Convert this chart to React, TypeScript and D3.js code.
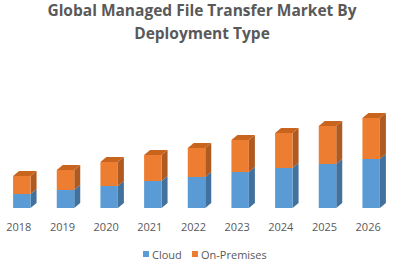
import { useRef, useEffect, RefObject } from 'react';
import * as d3 from 'd3';

const years: string[] = ['2018', '2019', '2020', '2021', '2022', '2023', '2024', '2025', '2026'];
const cloud: number[] = [1.4, 1.8, 2.2, 2.7, 3.1, 3.6, 4.0, 4.4, 4.9];
const onPremises: number[] = [1.8, 2.0, 2.4, 2.6, 2.9, 3.2, 3.5, 3.8, 4.1];
const seriesNames: string[] = ['Cloud', 'On-Premises'];

const front = ['#5B9BD5', '#ED7D31'];
const side = ['#41719C', '#AE5A21'];
const top = ['#4F88BB', '#C9641F'];

const Chart = () => {
  const svgRef: RefObject<SVGSVGElement> = useRef(null);

  useEffect(() => {
    const width = 400;
    const height = 266;
    const svg = d3.select(svgRef.current);
    svg.selectAll('*').remove();

    const x = d3.scaleBand().domain(years).range([0, 393]).paddingInner(0.6).paddingOuter(0.3);
    const y = d3.scaleLinear().domain([0, 10]).range([208, 108]);
    const dx = 6;
    const dy = 5;

    const rows = years.map((yr, i) => ({ year: yr, Cloud: cloud[i], 'On-Premises': onPremises[i] }));
    const stacked = d3.stack<any>().keys(seriesNames)(rows);

    // title
    const title = svg.append('g')
      .attr('font-family', 'Open Sans, sans-serif')
      .attr('font-weight', 'bold')
      .attr('font-size', 15.5)
      .attr('fill', '#595959')
      .attr('text-anchor', 'middle');
    title.append('text').attr('x', 202).attr('y', 16).text('Global Managed File Transfer Market By');
    title.append('text').attr('x', 202).attr('y', 39).text('Deployment Type');

    const bars = svg.append('g');
    stacked.forEach((layer, si) => {
      layer.forEach((d, i) => {
        const x0 = x(years[i])!;
        const x1 = x0 + x.bandwidth();
        const yTop = y(d[1]);
        const yBot = y(d[0]);
        // side face
        bars.append('path')
          .attr('d', `M${x1},${yBot}L${x1 + dx},${yBot - dy}L${x1 + dx},${yTop - dy}L${x1},${yTop}Z`)
          .attr('fill', side[si]);
        // front face
        bars.append('rect')
          .attr('x', x0).attr('y', yTop)
          .attr('width', x.bandwidth()).attr('height', yBot - yTop)
          .attr('fill', front[si]);
        // top face (only visible on top segment)
        if (si === stacked.length - 1) {
          bars.append('path')
            .attr('d', `M${x0},${yTop}L${x0 + dx},${yTop - dy}L${x1 + dx},${yTop - dy}L${x1},${yTop}Z`)
            .attr('fill', top[si]);
        }
      });
    });

    // x labels
    svg.append('g')
      .attr('font-family', 'Open Sans, sans-serif')
      .attr('font-size', 11)
      .attr('fill', '#595959')
      .attr('text-anchor', 'middle')
      .selectAll('text')
      .data(years)
      .join('text')
      .attr('x', (d) => x(d)! + x.bandwidth() / 2 - 3)
      .attr('y', 231)
      .text((d) => d);

    // legend
    const legend = svg.append('g')
      .attr('font-family', 'Open Sans, sans-serif')
      .attr('font-size', 11)
      .attr('fill', '#595959');
    const lx = [143, 192];
    seriesNames.forEach((name, i) => {
      legend.append('rect').attr('x', lx[i]).attr('y', 251).attr('width', 6).attr('height', 6).attr('fill', front[i]);
      legend.append('text').attr('x', lx[i] + 9).attr('y', 258.5).text(name);
    });

    svg.attr('width', width).attr('height', height);
  }, []);

  return <svg ref={svgRef} style={{ position: 'absolute', left: 0, top: 0, background: '#fff' }}></svg>;
};

export default function App() {
  return <Chart />;
}
